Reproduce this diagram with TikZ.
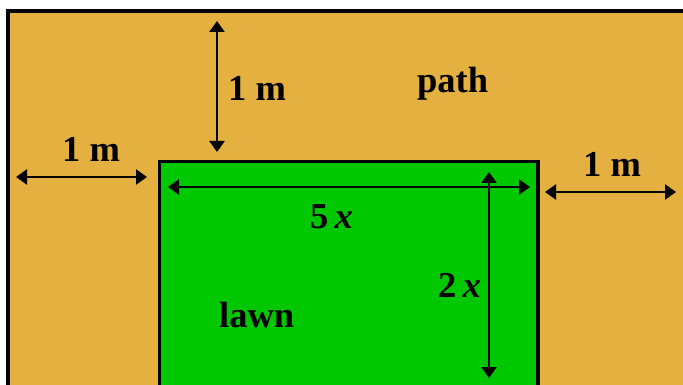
\documentclass[tikz,border=0pt]{standalone}
\usepackage{fontspec}
\setmainfont{Liberation Serif}
\usetikzlibrary{arrows.meta}
\definecolor{pathcol}{RGB}{228,176,64}
\definecolor{lawncol}{RGB}{0,200,0}
\tikzset{
  lbl/.style={font=\fontsize{36.5}{40}\selectfont\bfseries, inner sep=0pt, anchor=base west},
  dim/.style={line width=2.4pt, {Triangle[length=11pt,width=15pt]}-{Triangle[length=11pt,width=15pt]}},
}
\begin{document}
\begin{tikzpicture}[x=1pt,y=-1pt]
\useasboundingbox (0,0) rectangle (683,385);
\clip (0,0) rectangle (683,385);
\fill[white] (0,0) rectangle (683,385);
\draw[fill=pathcol, line width=4pt] (8,11) rectangle (720,420);
\draw[fill=lawncol, line width=3.5pt] (159.5,161.5) rectangle (538,420);
% coordinates for dimension arrows
\coordinate (t1) at (217,21);
\coordinate (t2) at (217,152);
\coordinate (l1) at (16,177);
\coordinate (l2) at (147,177);
\coordinate (r1) at (545,192);
\coordinate (r2) at (676,192);
\coordinate (w1) at (168,187);
\coordinate (w2) at (530,187);
\coordinate (h1) at (489,172);
\coordinate (h2) at (489,378);
\draw[dim] (t1) -- (t2);
\draw[dim] (l1) -- (l2);
\draw[dim] (r1) -- (r2);
\draw[dim] (w1) -- (w2);
\draw[dim] (h1) -- (h2);
\node[lbl] (lt) at (228,101) {1 m};
\node[lbl] (ll) at (62,162) {1 m};
\node[lbl] (lr) at (583,176) {1 m};
\node[lbl] (lp) at (417,93) {path};
\node[lbl] (lw) at (219,327) {lawn};
\node[lbl] (l5) at (310,229) {5\,\textit{x}};
\node[lbl] (l2x) at (438,297) {2\,\textit{x}};
\end{tikzpicture}
\end{document}
